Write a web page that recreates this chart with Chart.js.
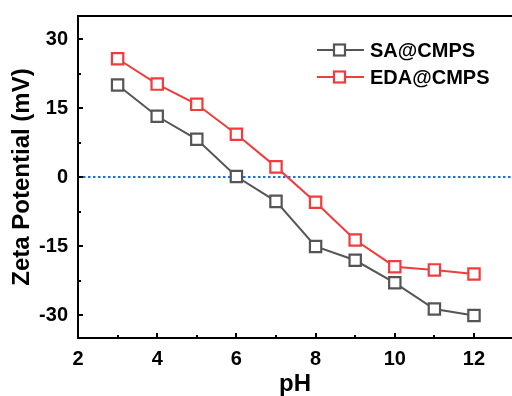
<!DOCTYPE html>
<html>
<head>
<meta charset="utf-8">
<script src="https://cdn.jsdelivr.net/npm/chart.js@4"></script>
<style>
  html, body { margin: 0; padding: 0; background: #fff; overflow: hidden; }
  #wrap { width: 512px; height: 396px; }
</style>
</head>
<body>
<div id="wrap"><canvas id="zeta-chart" width="512" height="396"></canvas></div>
<script>
// values
const pH = [3, 4, 5, 6, 7, 8, 9, 10, 11, 12];
const saCMPS = [20.0, 13.2, 8.2, 0.1, -5.3, -15.1, -18.1, -23.0, -28.7, -30.1];
const edaCMPS = [25.7, 20.2, 15.8, 9.3, 2.2, -5.5, -13.7, -19.5, -20.2, -21.1];
const xTicks = [2, 4, 6, 8, 10, 12];
const yTicks = [-30, -15, 0, 15, 30];

(function () {
    const FONT = '"Liberation Sans", Arial, sans-serif';
    const GREY = '#555555';
    const RED = '#f03c3c';

    function series(label, values, color) {
        return {
            label: label,
            data: pH.map((x, i) => ({x: x, y: values[i]})),
            borderColor: color,
            backgroundColor: '#ffffff',
            borderWidth: 2,
            pointStyle: 'rect',
            pointRadius: 8,
            pointBorderWidth: 2.2,
            pointBackgroundColor: '#ffffff',
            pointBorderColor: color,
            tension: 0,
        };
    }

    // inward ticks, minor ticks, top frame line and the dotted zero line
    const decorations = {
        id: 'decorations',
        beforeDatasetsDraw(chart) {
            const {ctx, chartArea} = chart;
            const y0 = chart.scales.y.getPixelForValue(0);
            ctx.save();
            ctx.strokeStyle = '#1f6be8';
            ctx.lineWidth = 2;
            ctx.setLineDash([2.5, 2.5]);
            ctx.beginPath();
            ctx.moveTo(chartArea.left, y0);
            ctx.lineTo(chartArea.right, y0);
            ctx.stroke();
            ctx.restore();
        },
        afterDraw(chart) {
            const {ctx, chartArea} = chart;
            const xs = chart.scales.x, ys = chart.scales.y;
            ctx.save();
            ctx.strokeStyle = '#000';
            ctx.lineWidth = 2;
            ctx.beginPath();
            ctx.moveTo(chartArea.left - 1, chartArea.top);
            ctx.lineTo(chartArea.right + 2, chartArea.top);
            for (let v = 2; v <= 12; v += 1) {
                const px = Math.round(xs.getPixelForValue(v));
                const len = v % 2 === 0 ? 5 : 3;
                ctx.moveTo(px, chartArea.bottom);
                ctx.lineTo(px, chartArea.bottom - len);
            }
            for (let v = -30; v <= 30; v += 7.5) {
                const py = Math.round(ys.getPixelForValue(v));
                const len = v % 15 === 0 ? 5 : 3;
                ctx.moveTo(chartArea.left, py);
                ctx.lineTo(chartArea.left + len, py);
            }
            ctx.stroke();
            ctx.restore();
        },
    };

    // origin-style legend: line sample with a marker in the middle
    const lineLegend = {
        id: 'lineLegend',
        afterDraw(chart) {
            const {ctx} = chart;
            const x0 = 317, x1 = 364, textX = 370;
            ctx.save();
            chart.data.datasets.forEach(function (ds, i) {
                const y = 50 + i * 27;
                ctx.strokeStyle = ds.borderColor;
                ctx.lineWidth = 2;
                ctx.beginPath();
                ctx.moveTo(x0, y);
                ctx.lineTo(x1, y);
                ctx.stroke();
                ctx.fillStyle = '#fff';
                ctx.lineWidth = 2.2;
                ctx.fillRect(x0 + 17, y - 5.5, 11, 11);
                ctx.strokeRect(x0 + 17, y - 5.5, 11, 11);
                ctx.fillStyle = '#000';
                ctx.font = 'bold 20px ' + FONT;
                ctx.textBaseline = 'middle';
                ctx.fillText(ds.label, textX, y + 1);
            });
            ctx.restore();
        },
    };

    const chart = new Chart(document.getElementById('zeta-chart'), {
        type: 'line',
        data: {
            datasets: [
                series('SA@CMPS', saCMPS, GREY),
                series('EDA@CMPS', edaCMPS, RED),
            ],
        },
        options: {
            responsive: false,
            animation: false,
            layout: {autoPadding: false, padding: {top: 16, right: 0, left: 0, bottom: 0}},
            plugins: {
                legend: {display: false},
                tooltip: {enabled: false},
            },
            scales: {
                x: {
                    type: 'linear',
                    min: 2,
                    max: 12.96,
                    afterFit: s => {
                        s.height = 58;
                        s.paddingRight = 0; // no room kept for the last label
                        s.paddingLeft = 0;
                    },
                    afterBuildTicks: s => { s.ticks = xTicks.map(v => ({value: v})); },
                    grid: {display: false, drawTicks: false},
                    border: {display: true, color: '#000', width: 2},
                    ticks: {
                        color: '#000',
                        padding: 9,
                        font: {family: FONT, size: 20, weight: 'bold'},
                    },
                    title: {
                        display: true,
                        text: 'pH',
                        color: '#000',
                        padding: 0,
                        font: {family: FONT, size: 24, weight: 'bold', lineHeight: 1},
                    },
                },
                y: {
                    min: -35,
                    max: 35,
                    afterFit: s => {
                        s.width = 78;
                        s.paddingTop = 0;
                        s.paddingBottom = 0;
                    },
                    afterBuildTicks: s => { s.ticks = yTicks.map(v => ({value: v})); },
                    grid: {display: false, drawTicks: false},
                    border: {display: true, color: '#000', width: 2},
                    ticks: {
                        color: '#000',
                        padding: 10,
                        font: {family: FONT, size: 20, weight: 'bold'},
                    },
                    title: {
                        display: true,
                        text: 'Zeta Potential (mV)',
                        color: '#000',
                        padding: {top: 10, bottom: 0},
                        font: {family: FONT, size: 24, weight: 'bold', lineHeight: 1},
                    },
                },
            },
        },
        plugins: [decorations, lineLegend],
    });

    window.chart = chart;
})();
</script>
</body>
</html>
